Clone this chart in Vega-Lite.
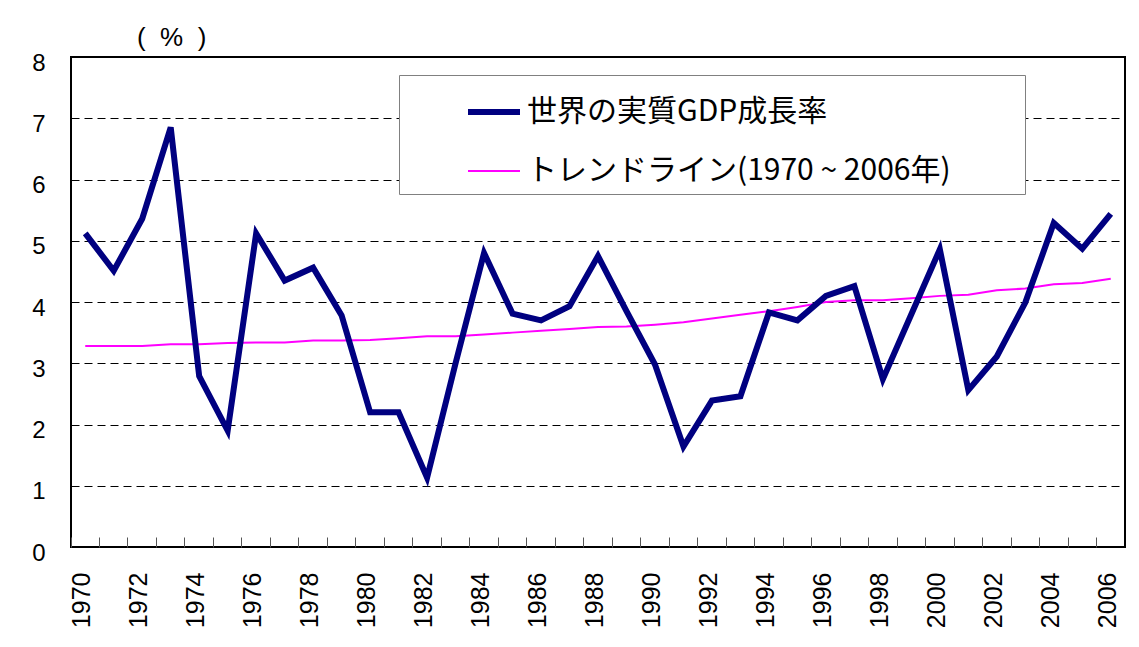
{
  "$schema": "https://vega.github.io/schema/vega-lite/v6.json",
  "autosize": {"type": "none"},
  "padding": {"left": 71, "top": 57, "right": 14, "bottom": 100},
  "width": 1054,
  "height": 490,
  "background": "white",
  "title": {"text": "(\u00a0\u00a0%\u00a0\u00a0)", "anchor": "start", "frame": "group", "dx": 66, "offset": 0, "fontSize": 26, "font": "Liberation Sans", "fontWeight": "normal", "color": "#000"},
  "config": {"view": {"stroke": "#000", "strokeWidth": 2}},
  "data": {"values": [
    {"year": 1970, "series": "世界の実質GDP成長率", "value": 5.12},
    {"year": 1971, "series": "世界の実質GDP成長率", "value": 4.51},
    {"year": 1972, "series": "世界の実質GDP成長率", "value": 5.36},
    {"year": 1973, "series": "世界の実質GDP成長率", "value": 6.85},
    {"year": 1974, "series": "世界の実質GDP成長率", "value": 2.79},
    {"year": 1975, "series": "世界の実質GDP成長率", "value": 1.90},
    {"year": 1976, "series": "世界の実質GDP成長率", "value": 5.12},
    {"year": 1977, "series": "世界の実質GDP成長率", "value": 4.35},
    {"year": 1978, "series": "世界の実質GDP成長率", "value": 4.56},
    {"year": 1979, "series": "世界の実質GDP成長率", "value": 3.78},
    {"year": 1980, "series": "世界の実質GDP成長率", "value": 2.20},
    {"year": 1981, "series": "世界の実質GDP成長率", "value": 2.20},
    {"year": 1982, "series": "世界の実質GDP成長率", "value": 1.13},
    {"year": 1983, "series": "世界の実質GDP成長率", "value": 3.00},
    {"year": 1984, "series": "世界の実質GDP成長率", "value": 4.80},
    {"year": 1985, "series": "世界の実質GDP成長率", "value": 3.81},
    {"year": 1986, "series": "世界の実質GDP成長率", "value": 3.70},
    {"year": 1987, "series": "世界の実質GDP成長率", "value": 3.93},
    {"year": 1988, "series": "世界の実質GDP成長率", "value": 4.75},
    {"year": 1989, "series": "世界の実質GDP成長率", "value": 3.85},
    {"year": 1990, "series": "世界の実質GDP成長率", "value": 2.98},
    {"year": 1991, "series": "世界の実質GDP成長率", "value": 1.64},
    {"year": 1992, "series": "世界の実質GDP成長率", "value": 2.39},
    {"year": 1993, "series": "世界の実質GDP成長率", "value": 2.46},
    {"year": 1994, "series": "世界の実質GDP成長率", "value": 3.83},
    {"year": 1995, "series": "世界の実質GDP成長率", "value": 3.70},
    {"year": 1996, "series": "世界の実質GDP成長率", "value": 4.10},
    {"year": 1997, "series": "世界の実質GDP成長率", "value": 4.26},
    {"year": 1998, "series": "世界の実質GDP成長率", "value": 2.74},
    {"year": 1999, "series": "世界の実質GDP成長率", "value": 3.80},
    {"year": 2000, "series": "世界の実質GDP成長率", "value": 4.86},
    {"year": 2001, "series": "世界の実質GDP成長率", "value": 2.56},
    {"year": 2002, "series": "世界の実質GDP成長率", "value": 3.11},
    {"year": 2003, "series": "世界の実質GDP成長率", "value": 3.99},
    {"year": 2004, "series": "世界の実質GDP成長率", "value": 5.29},
    {"year": 2005, "series": "世界の実質GDP成長率", "value": 4.87},
    {"year": 2006, "series": "世界の実質GDP成長率", "value": 5.44},
    {"year": 1970, "series": "トレンドライン(1970 ~ 2006年)", "value": 3.28},
    {"year": 1971, "series": "トレンドライン(1970 ~ 2006年)", "value": 3.28},
    {"year": 1972, "series": "トレンドライン(1970 ~ 2006年)", "value": 3.28},
    {"year": 1973, "series": "トレンドライン(1970 ~ 2006年)", "value": 3.31},
    {"year": 1974, "series": "トレンドライン(1970 ~ 2006年)", "value": 3.31},
    {"year": 1975, "series": "トレンドライン(1970 ~ 2006年)", "value": 3.33},
    {"year": 1976, "series": "トレンドライン(1970 ~ 2006年)", "value": 3.34},
    {"year": 1977, "series": "トレンドライン(1970 ~ 2006年)", "value": 3.34},
    {"year": 1978, "series": "トレンドライン(1970 ~ 2006年)", "value": 3.37},
    {"year": 1979, "series": "トレンドライン(1970 ~ 2006年)", "value": 3.37},
    {"year": 1980, "series": "トレンドライン(1970 ~ 2006年)", "value": 3.38},
    {"year": 1981, "series": "トレンドライン(1970 ~ 2006年)", "value": 3.41},
    {"year": 1982, "series": "トレンドライン(1970 ~ 2006年)", "value": 3.44},
    {"year": 1983, "series": "トレンドライン(1970 ~ 2006年)", "value": 3.44},
    {"year": 1984, "series": "トレンドライン(1970 ~ 2006年)", "value": 3.47},
    {"year": 1985, "series": "トレンドライン(1970 ~ 2006年)", "value": 3.50},
    {"year": 1986, "series": "トレンドライン(1970 ~ 2006年)", "value": 3.53},
    {"year": 1987, "series": "トレンドライン(1970 ~ 2006年)", "value": 3.56},
    {"year": 1988, "series": "トレンドライン(1970 ~ 2006年)", "value": 3.59},
    {"year": 1989, "series": "トレンドライン(1970 ~ 2006年)", "value": 3.60},
    {"year": 1990, "series": "トレンドライン(1970 ~ 2006年)", "value": 3.63},
    {"year": 1991, "series": "トレンドライン(1970 ~ 2006年)", "value": 3.67},
    {"year": 1992, "series": "トレンドライン(1970 ~ 2006年)", "value": 3.73},
    {"year": 1993, "series": "トレンドライン(1970 ~ 2006年)", "value": 3.79},
    {"year": 1994, "series": "トレンドライン(1970 ~ 2006年)", "value": 3.85},
    {"year": 1995, "series": "トレンドライン(1970 ~ 2006年)", "value": 3.92},
    {"year": 1996, "series": "トレンドライン(1970 ~ 2006年)", "value": 4.00},
    {"year": 1997, "series": "トレンドライン(1970 ~ 2006年)", "value": 4.03},
    {"year": 1998, "series": "トレンドライン(1970 ~ 2006年)", "value": 4.03},
    {"year": 1999, "series": "トレンドライン(1970 ~ 2006年)", "value": 4.06},
    {"year": 2000, "series": "トレンドライン(1970 ~ 2006年)", "value": 4.10},
    {"year": 2001, "series": "トレンドライン(1970 ~ 2006年)", "value": 4.12},
    {"year": 2002, "series": "トレンドライン(1970 ~ 2006年)", "value": 4.19},
    {"year": 2003, "series": "トレンドライン(1970 ~ 2006年)", "value": 4.22},
    {"year": 2004, "series": "トレンドライン(1970 ~ 2006年)", "value": 4.29},
    {"year": 2005, "series": "トレンドライン(1970 ~ 2006年)", "value": 4.31},
    {"year": 2006, "series": "トレンドライン(1970 ~ 2006年)", "value": 4.38}
  ]},
  "encoding": {
    "x": {
      "field": "year", "type": "ordinal",
      "scale": {"type": "band", "paddingInner": 0, "paddingOuter": 0},
      "axis": {
        "title": null, "labelAngle": -90, "labelFontSize": 25, "labelFont": "Liberation Sans", "labelColor": "#000",
        "labelExpr": "datum.value % 2 == 0 ? datum.label : ''",
        "bandPosition": 0, "labelOffset": -3,
        "tickSize": -10, "tickColor": "#555", "tickWidth": 1,
        "labelPadding": 35, "domain": false, "grid": false,
        "labelOverlap": false, "labelBound": false, "labelFlush": false
      }
    },
    "y": {
      "field": "value", "type": "quantitative",
      "scale": {"domain": [0, 8], "nice": false},
      "axis": {
        "title": null, "values": [0, 1, 2, 3, 4, 5, 6, 7, 8],
        "labelFontSize": 24, "labelFont": "Liberation Sans", "labelColor": "#000",
        "ticks": false, "labelPadding": 26, "labelOffset": 6, "domain": false,
        "grid": true, "gridColor": "#000", "gridDash": [8, 5], "gridWidth": 1
      }
    },
    "color": {
      "field": "series", "type": "nominal",
      "scale": {"domain": ["世界の実質GDP成長率", "トレンドライン(1970 ~ 2006年)"], "range": ["#000080", "#ff00ff"]},
      "legend": {
        "title": null, "orient": "none", "legendX": 328, "legendY": 18, "direction": "vertical",
        "padding": 8, "strokeColor": "#808080", "fillColor": "white",
        "symbolType": "stroke", "symbolSize": 2704, "symbolOffset": 58, "labelOffset": 4,
        "labelFontSize": 30, "labelFont": "Noto Sans CJK JP", "labelColor": "#000",
        "rowPadding": 17, "labelLimit": 0, "labelExpr": "datum.label + '\u2800\u2800\u2800'"
      }
    },
    "strokeWidth": {
      "field": "series", "type": "nominal",
      "scale": {"domain": ["世界の実質GDP成長率", "トレンドライン(1970 ~ 2006年)"], "range": [6, 2]},
      "legend": {
        "title": null, "orient": "none", "legendX": 328, "legendY": 18, "direction": "vertical",
        "padding": 8, "strokeColor": "#808080", "fillColor": "white",
        "symbolType": "stroke", "symbolSize": 2704, "symbolOffset": 58, "labelOffset": 4,
        "labelFontSize": 30, "labelFont": "Noto Sans CJK JP", "labelColor": "#000",
        "rowPadding": 17, "labelLimit": 0, "labelExpr": "datum.label + '\u2800\u2800\u2800'"
      }
    }
  },
  "layer": [
    {"transform": [{"filter": {"field": "series", "equal": "トレンドライン(1970 ~ 2006年)"}}], "mark": {"type": "line"}},
    {"transform": [{"filter": {"field": "series", "equal": "世界の実質GDP成長率"}}], "mark": {"type": "line", "strokeJoin": "miter"}}
  ]
}
